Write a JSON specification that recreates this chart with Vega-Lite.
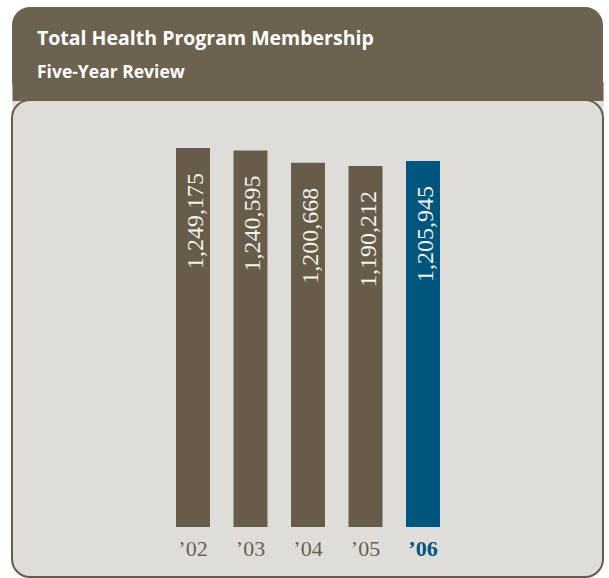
{
  "$schema": "https://vega.github.io/schema/vega-lite/v6.json",
  "background": "white",
  "padding": {"left": 11, "top": 7, "right": 0, "bottom": 0},
  "autosize": {"type": "pad"},
  "spacing": 0,
  "bounds": "flush",
  "config": {"view": {"strokeWidth": 0}},
  "vconcat": [
    {
      "width": 591,
      "height": 93,
      "view": {"fill": "#6c6250", "stroke": null, "cornerRadius": 18},
      "title": {
        "text": "Total Health Program Membership",
        "subtitle": "Five-Year Review",
        "anchor": "start",
        "frame": "group",
        "offset": -75,
        "dx": 25,
        "font": "Open Sans",
        "fontSize": 19.5,
        "fontWeight": "bold",
        "color": "white",
        "subtitleFont": "Open Sans",
        "subtitleFontSize": 17.5,
        "subtitleFontWeight": "bold",
        "subtitleColor": "white",
        "subtitlePadding": 14
      },
      "data": {"values": []},
      "mark": "point",
      "encoding": {
        "y": {
          "field": "v",
          "type": "quantitative",
          "scale": {"domain": [0, 93], "nice": false},
          "axis": {
            "values": [0.5, 9.5],
            "grid": true,
            "gridColor": {"condition": {"test": "datum.value < 1", "value": "#dfddd9"}, "value": "#6c6250"},
            "gridWidth": {"condition": {"test": "datum.value < 1", "value": 37}, "value": 19},
            "gridOpacity": 1,
            "labels": false,
            "ticks": false,
            "domain": false,
            "title": null
          }
        }
      }
    },
    {
      "width": 591,
      "height": 477,
      "view": {"fill": "#dfddd9", "stroke": "#675c4a", "strokeWidth": 2, "cornerRadius": 18},
      "data": {
        "values": [
          {"year": "’02", "members": 1249175},
          {"year": "’03", "members": 1240595},
          {"year": "’04", "members": 1200668},
          {"year": "’05", "members": 1190212},
          {"year": "’06", "members": 1205945}
        ]
      },
      "encoding": {
        "x": {
          "field": "year",
          "type": "nominal",
          "sort": null,
          "scale": {"range": [164, 428], "paddingInner": 0.4087, "paddingOuter": 0},
          "axis": {
            "orient": "bottom",
            "offset": -50,
            "domain": false,
            "ticks": false,
            "tickSize": 0,
            "grid": false,
            "title": null,
            "labelAngle": 0,
            "labelPadding": 11,
            "labelFont": "Liberation Serif",
            "labelFontSize": 22,
            "labelColor": {"condition": {"test": "datum.value === '’06'", "value": "#00557f"}, "value": "#6b5f4e"},
            "labelFontWeight": {"condition": {"test": "datum.value === '’06'", "value": "bold"}, "value": "normal"}
          }
        },
        "y": {
          "field": "members",
          "type": "quantitative",
          "scale": {"domain": [-164800, 1407400], "nice": false},
          "axis": null
        }
      },
      "layer": [
        {
          "mark": {"type": "bar"},
          "encoding": {
            "color": {"condition": {"test": "datum.year === '’06'", "value": "#00557f"}, "value": "#675c4a"}
          }
        },
        {
          "mark": {
            "type": "text",
            "angle": 270,
            "align": "right",
            "baseline": "middle",
            "dx": -25,
            "dy": 3,
            "font": "Liberation Serif",
            "fontSize": 24,
            "color": "#f4f2ec"
          },
          "encoding": {
            "text": {"field": "members", "type": "quantitative", "format": ","}
          }
        }
      ]
    }
  ]
}
